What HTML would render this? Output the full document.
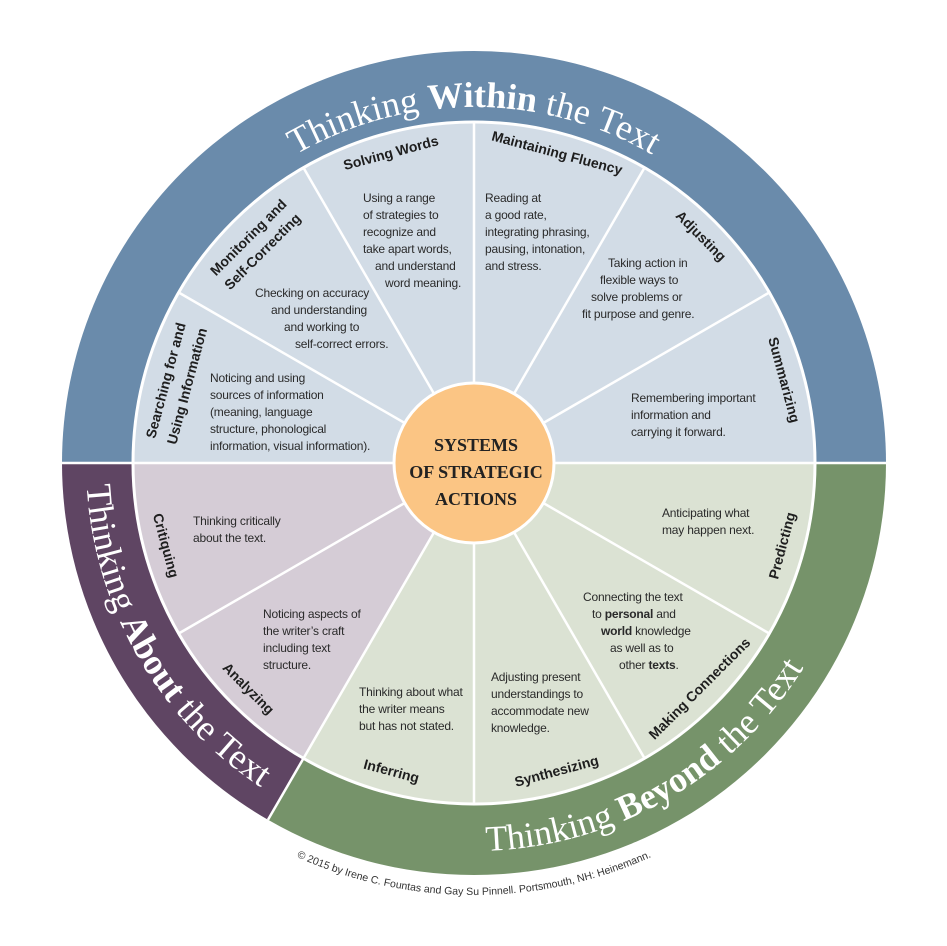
<!DOCTYPE html>
<html><head><meta charset="utf-8"><style>
html,body{margin:0;padding:0;background:#fff;}
svg{display:block;}
.t{font-family:"Liberation Sans",sans-serif;font-weight:bold;font-size:14px;fill:#1e1e1e;text-anchor:middle;dominant-baseline:middle;}
.b{font-family:"Liberation Sans",sans-serif;font-size:12px;fill:#2a2a2a;letter-spacing:-0.2px;}
.r{font-family:"Liberation Serif",serif;font-size:36px;fill:#fff;}
</style></head><body>
<svg width="947" height="946" viewBox="0 0 947 946" xmlns="http://www.w3.org/2000/svg">
<defs>
<path id="pTop" d="M139.5,584.8 A356 356 0 1 1 808.5,584.8"/>
<path id="pLeft" d="M406.6,80.9 A388 388 0 1 0 771.2,712.4"/>
<path id="pGreen" d="M91.9,530.4 A388 388 0 1 0 723.4,165.8"/>
<path id="pCopy" d="M196.3,793.9 A432 432 0 0 0 751.7,793.9"/>
</defs>
<path d="M474,463 L62,463 A412 412 0 0 1 886,463 Z" fill="#6a8bab"/>
<path d="M474,463 L886,463 A412 412 0 0 1 268,819.8 Z" fill="#76936a"/>
<path d="M474,463 L268,819.8 A412 412 0 0 1 62,463 Z" fill="#5f4563"/>
<path d="M474,463 L133,463 A341 341 0 0 1 815,463 Z" fill="#d2dce6"/>
<path d="M474,463 L815,463 A341 341 0 0 1 303.5,758.3 Z" fill="#dbe2d3"/>
<path d="M474,463 L303.5,758.3 A341 341 0 0 1 133,463 Z" fill="#d5ccd6"/>
<circle cx="474" cy="463" r="341" fill="none" stroke="#fff" stroke-width="3"/>
<g stroke="#fff" stroke-width="2.5">
<line x1="62" y1="463" x2="886" y2="463"/>
<line x1="474" y1="463" x2="268" y2="819.8"/>
<line x1="474" y1="463" x2="769.3" y2="633.5"/>
<line x1="474" y1="463" x2="644.5" y2="758.3"/>
<line x1="474" y1="463" x2="474" y2="804"/>
<line x1="474" y1="463" x2="178.7" y2="633.5"/>
<line x1="474" y1="463" x2="178.7" y2="292.5"/>
<line x1="474" y1="463" x2="303.5" y2="167.7"/>
<line x1="474" y1="463" x2="474" y2="122"/>
<line x1="474" y1="463" x2="644.5" y2="167.7"/>
<line x1="474" y1="463" x2="769.3" y2="292.5"/>
</g>
<text class="r"><textPath href="#pTop" startOffset="50%" text-anchor="middle">Thinking <tspan font-weight="bold">Within</tspan> the Text</textPath></text>
<text class="r"><textPath href="#pLeft" startOffset="50%" text-anchor="middle">Thinking <tspan font-weight="bold">About</tspan> the Text</textPath></text>
<text class="r"><textPath href="#pGreen" startOffset="50%" text-anchor="middle">Thinking <tspan font-weight="bold">Beyond</tspan> the Text</textPath></text>
<text class="t" x="474" y="143" transform="rotate(-15 474 463)">Solving Words</text>
<text class="t" x="474" y="143" transform="rotate(15 474 463)">Maintaining Fluency</text>
<text class="t" x="474" y="143" transform="rotate(45 474 463)">Adjusting</text>
<text class="t" x="474" y="143" transform="rotate(75 474 463)">Summarizing</text>
<g transform="rotate(-45 474 463)"><text class="t" x="474" y="145">Monitoring and</text><text class="t" x="474" y="165">Self-Correcting</text></g>
<g transform="rotate(-75 474 463)"><text class="t" x="474" y="145">Searching for and</text><text class="t" x="474" y="167">Using Information</text></g>
<text class="t" x="474" y="783" transform="rotate(-75 474 463)">Predicting</text>
<text class="t" x="474" y="783" transform="rotate(-45 474 463)">Making Connections</text>
<text class="t" x="474" y="783" transform="rotate(-15 474 463)">Synthesizing</text>
<text class="t" x="474" y="783" transform="rotate(15 474 463)">Inferring</text>
<text class="t" x="474" y="783" transform="rotate(45 474 463)">Analyzing</text>
<text class="t" x="474" y="783" transform="rotate(75 474 463)">Critiquing</text>
<g class="b">
<text x="363" y="202">Using a range</text>
<text x="363" y="219">of strategies to</text>
<text x="363" y="236">recognize and</text>
<text x="363" y="253">take apart words,</text>
<text x="375" y="270">and understand</text>
<text x="385" y="287">word meaning.</text>
<text x="255" y="297">Checking on accuracy</text>
<text x="271" y="314">and understanding</text>
<text x="284" y="331">and working to</text>
<text x="295" y="348">self-correct errors.</text>
<text x="210" y="382">Noticing and using</text>
<text x="210" y="399">sources of information</text>
<text x="210" y="416">(meaning, language</text>
<text x="210" y="433">structure, phonological</text>
<text x="210" y="450">information, visual information).</text>
<text x="485" y="202">Reading at</text>
<text x="485" y="219">a good rate,</text>
<text x="485" y="236">integrating phrasing,</text>
<text x="485" y="253">pausing, intonation,</text>
<text x="485" y="270">and stress.</text>
<text x="608" y="267">Taking action in</text>
<text x="600" y="284">flexible ways to</text>
<text x="591" y="301">solve problems or</text>
<text x="582" y="318">fit purpose and genre.</text>
<text x="631" y="402">Remembering important</text>
<text x="631" y="419">information and</text>
<text x="631" y="436">carrying it forward.</text>
<text x="193" y="525">Thinking critically</text>
<text x="193" y="542">about the text.</text>
<text x="263" y="618">Noticing aspects of</text>
<text x="263" y="635">the writer’s craft</text>
<text x="263" y="652">including text</text>
<text x="263" y="669">structure.</text>
<text x="359" y="696">Thinking about what</text>
<text x="359" y="713">the writer means</text>
<text x="359" y="730">but has not stated.</text>
<text x="491" y="681">Adjusting present</text>
<text x="491" y="698">understandings to</text>
<text x="491" y="715">accommodate new</text>
<text x="491" y="732">knowledge.</text>
<text x="662" y="517">Anticipating what</text>
<text x="662" y="534">may happen next.</text>
<text x="583" y="601">Connecting the text</text>
<text x="592" y="618">to <tspan font-weight="bold">personal</tspan> and</text>
<text x="601" y="635"><tspan font-weight="bold">world</tspan> knowledge</text>
<text x="610" y="652">as well as to</text>
<text x="619" y="669">other <tspan font-weight="bold">texts</tspan>.</text>
</g>
<circle cx="474" cy="463" r="80" fill="#fbc584" stroke="#fff" stroke-width="3"/>
<g font-family="'Liberation Serif',serif" font-weight="bold" font-size="18" fill="#222" text-anchor="middle">
<text x="476" y="451">SYSTEMS</text>
<text x="476" y="478">OF STRATEGIC</text>
<text x="476" y="505">ACTIONS</text>
</g>
<text font-family="'Liberation Sans',sans-serif" font-size="10.5" fill="#333"><textPath href="#pCopy" startOffset="50%" text-anchor="middle">© 2015 by Irene C. Fountas and Gay Su Pinnell. Portsmouth, NH: Heinemann.</textPath></text>
</svg>
</body></html>
